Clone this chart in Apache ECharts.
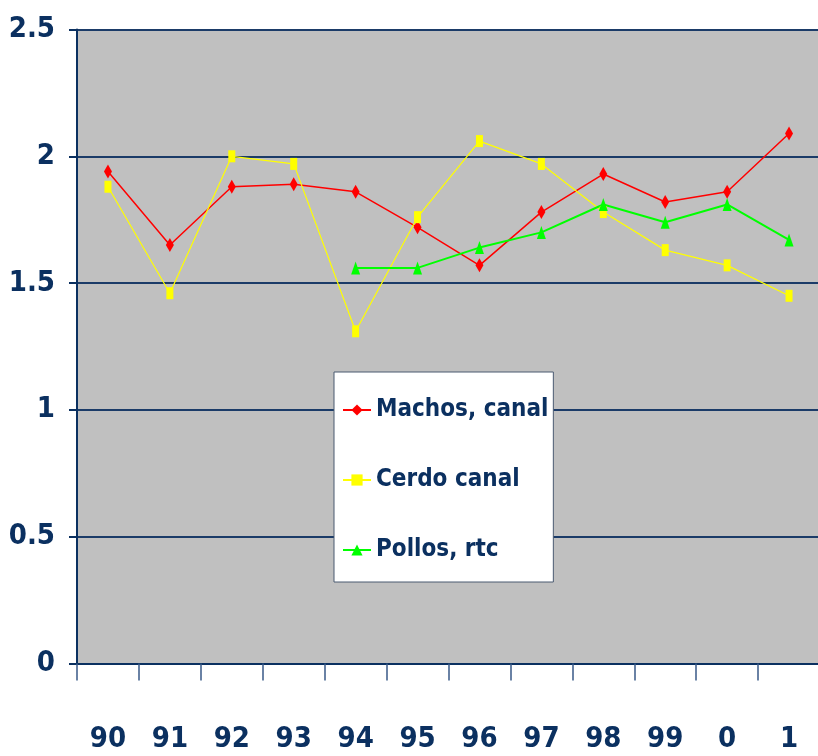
<!DOCTYPE html>
<html>
<head>
<meta charset="utf-8">
<script src="https://cdn.jsdelivr.net/npm/echarts@6/dist/echarts.min.js"></script>
<style>
  html, body { margin: 0; padding: 0; background: #fff; }
  #chart { width: 818px; height: 756px; }
</style>
</head>
<body>
<div id="chart"></div>
<script>
  // años y series
  var years = ['90', '91', '92', '93', '94', '95', '96', '97', '98', '99', '0', '1'];
  var machos = [1.94, 1.65, 1.88, 1.89, 1.86, 1.72, 1.57, 1.78, 1.93, 1.82, 1.86, 2.09];
  var cerdo = [1.88, 1.46, 2.00, 1.97, 1.31, 1.76, 2.06, 1.97, 1.78, 1.63, 1.57, 1.45];
  var pollos = [null, null, null, null, 1.56, 1.56, 1.64, 1.70, 1.81, 1.74, 1.81, 1.67];

  var navy = '#0b3060';
  var font = '"DejaVu Sans Condensed", "Liberation Sans Narrow", Arial, sans-serif';

  var chart = echarts.init(document.getElementById('chart'));

  var option = {
    animation: false,
    backgroundColor: '#fff',
    grid: {
      left: 77, top: 29.5, right: -2, bottom: 92.5,
      outerBoundsMode: 'none', containLabel: false,
      show: true, backgroundColor: '#c0c0c0', borderWidth: 0
    },
    legend: {
      orient: 'vertical',
      left: 334,
      top: 372,
      backgroundColor: '#fff',
      borderColor: '#4a5a70',
      borderWidth: 1,
      borderRadius: 0,
      padding: [20, 5, 14, 8],
      itemGap: 34,
      itemWidth: 28,
      itemHeight: 14,
      textStyle: { color: navy, fontFamily: font, fontWeight: 'bold', fontSize: 24, lineHeight: 36 },
      data: ['Machos, canal', 'Cerdo canal', 'Pollos, rtc']
    },
    xAxis: {
      type: 'category',
      data: years,
      boundaryGap: true,
      axisLine: { lineStyle: { color: navy, width: 2 } },
      axisTick: { show: true, interval: 0, length: 17, lineStyle: { color: '#3a5a88', width: 1.5 } },
      axisLabel: { color: navy, fontFamily: font, fontWeight: 'bold', fontSize: 29, margin: 61 },
      splitLine: { show: false }
    },
    yAxis: {
      type: 'value',
      min: 0,
      max: 2.5,
      interval: 0.5,
      axisLine: { show: true, lineStyle: { color: navy, width: 2 } },
      axisTick: { show: true, length: 8, lineStyle: { color: navy, width: 2 } },
      axisLabel: {
        color: navy, fontFamily: font, fontWeight: 'bold', fontSize: 29, margin: 22,
        formatter: function (v) { return String(v); }
      },
      splitLine: { show: true, lineStyle: { color: '#1b3b68', width: 2 } }
    },
    series: [
      {
        name: 'Machos, canal',
        type: 'line',
        data: machos,
        symbol: 'diamond',
        symbolSize: [8, 14],
        itemStyle: { color: '#ff0000' },
        lineStyle: { color: '#ff0000', width: 1.5 }
      },
      {
        name: 'Cerdo canal',
        type: 'line',
        data: cerdo,
        symbol: 'rect',
        symbolSize: [7, 12],
        itemStyle: { color: '#ffff00' },
        lineStyle: { color: '#ffff00', width: 1.2 }
      },
      {
        name: 'Pollos, rtc',
        type: 'line',
        data: pollos,
        symbol: 'triangle',
        symbolSize: [9, 13],
        itemStyle: { color: '#00ff00' },
        lineStyle: { color: '#00ff00', width: 2 }
      }
    ]
  };

  chart.setOption(option);
  window.addEventListener('resize', function () {
    chart.resize();
  });
</script>
</body>
</html>
